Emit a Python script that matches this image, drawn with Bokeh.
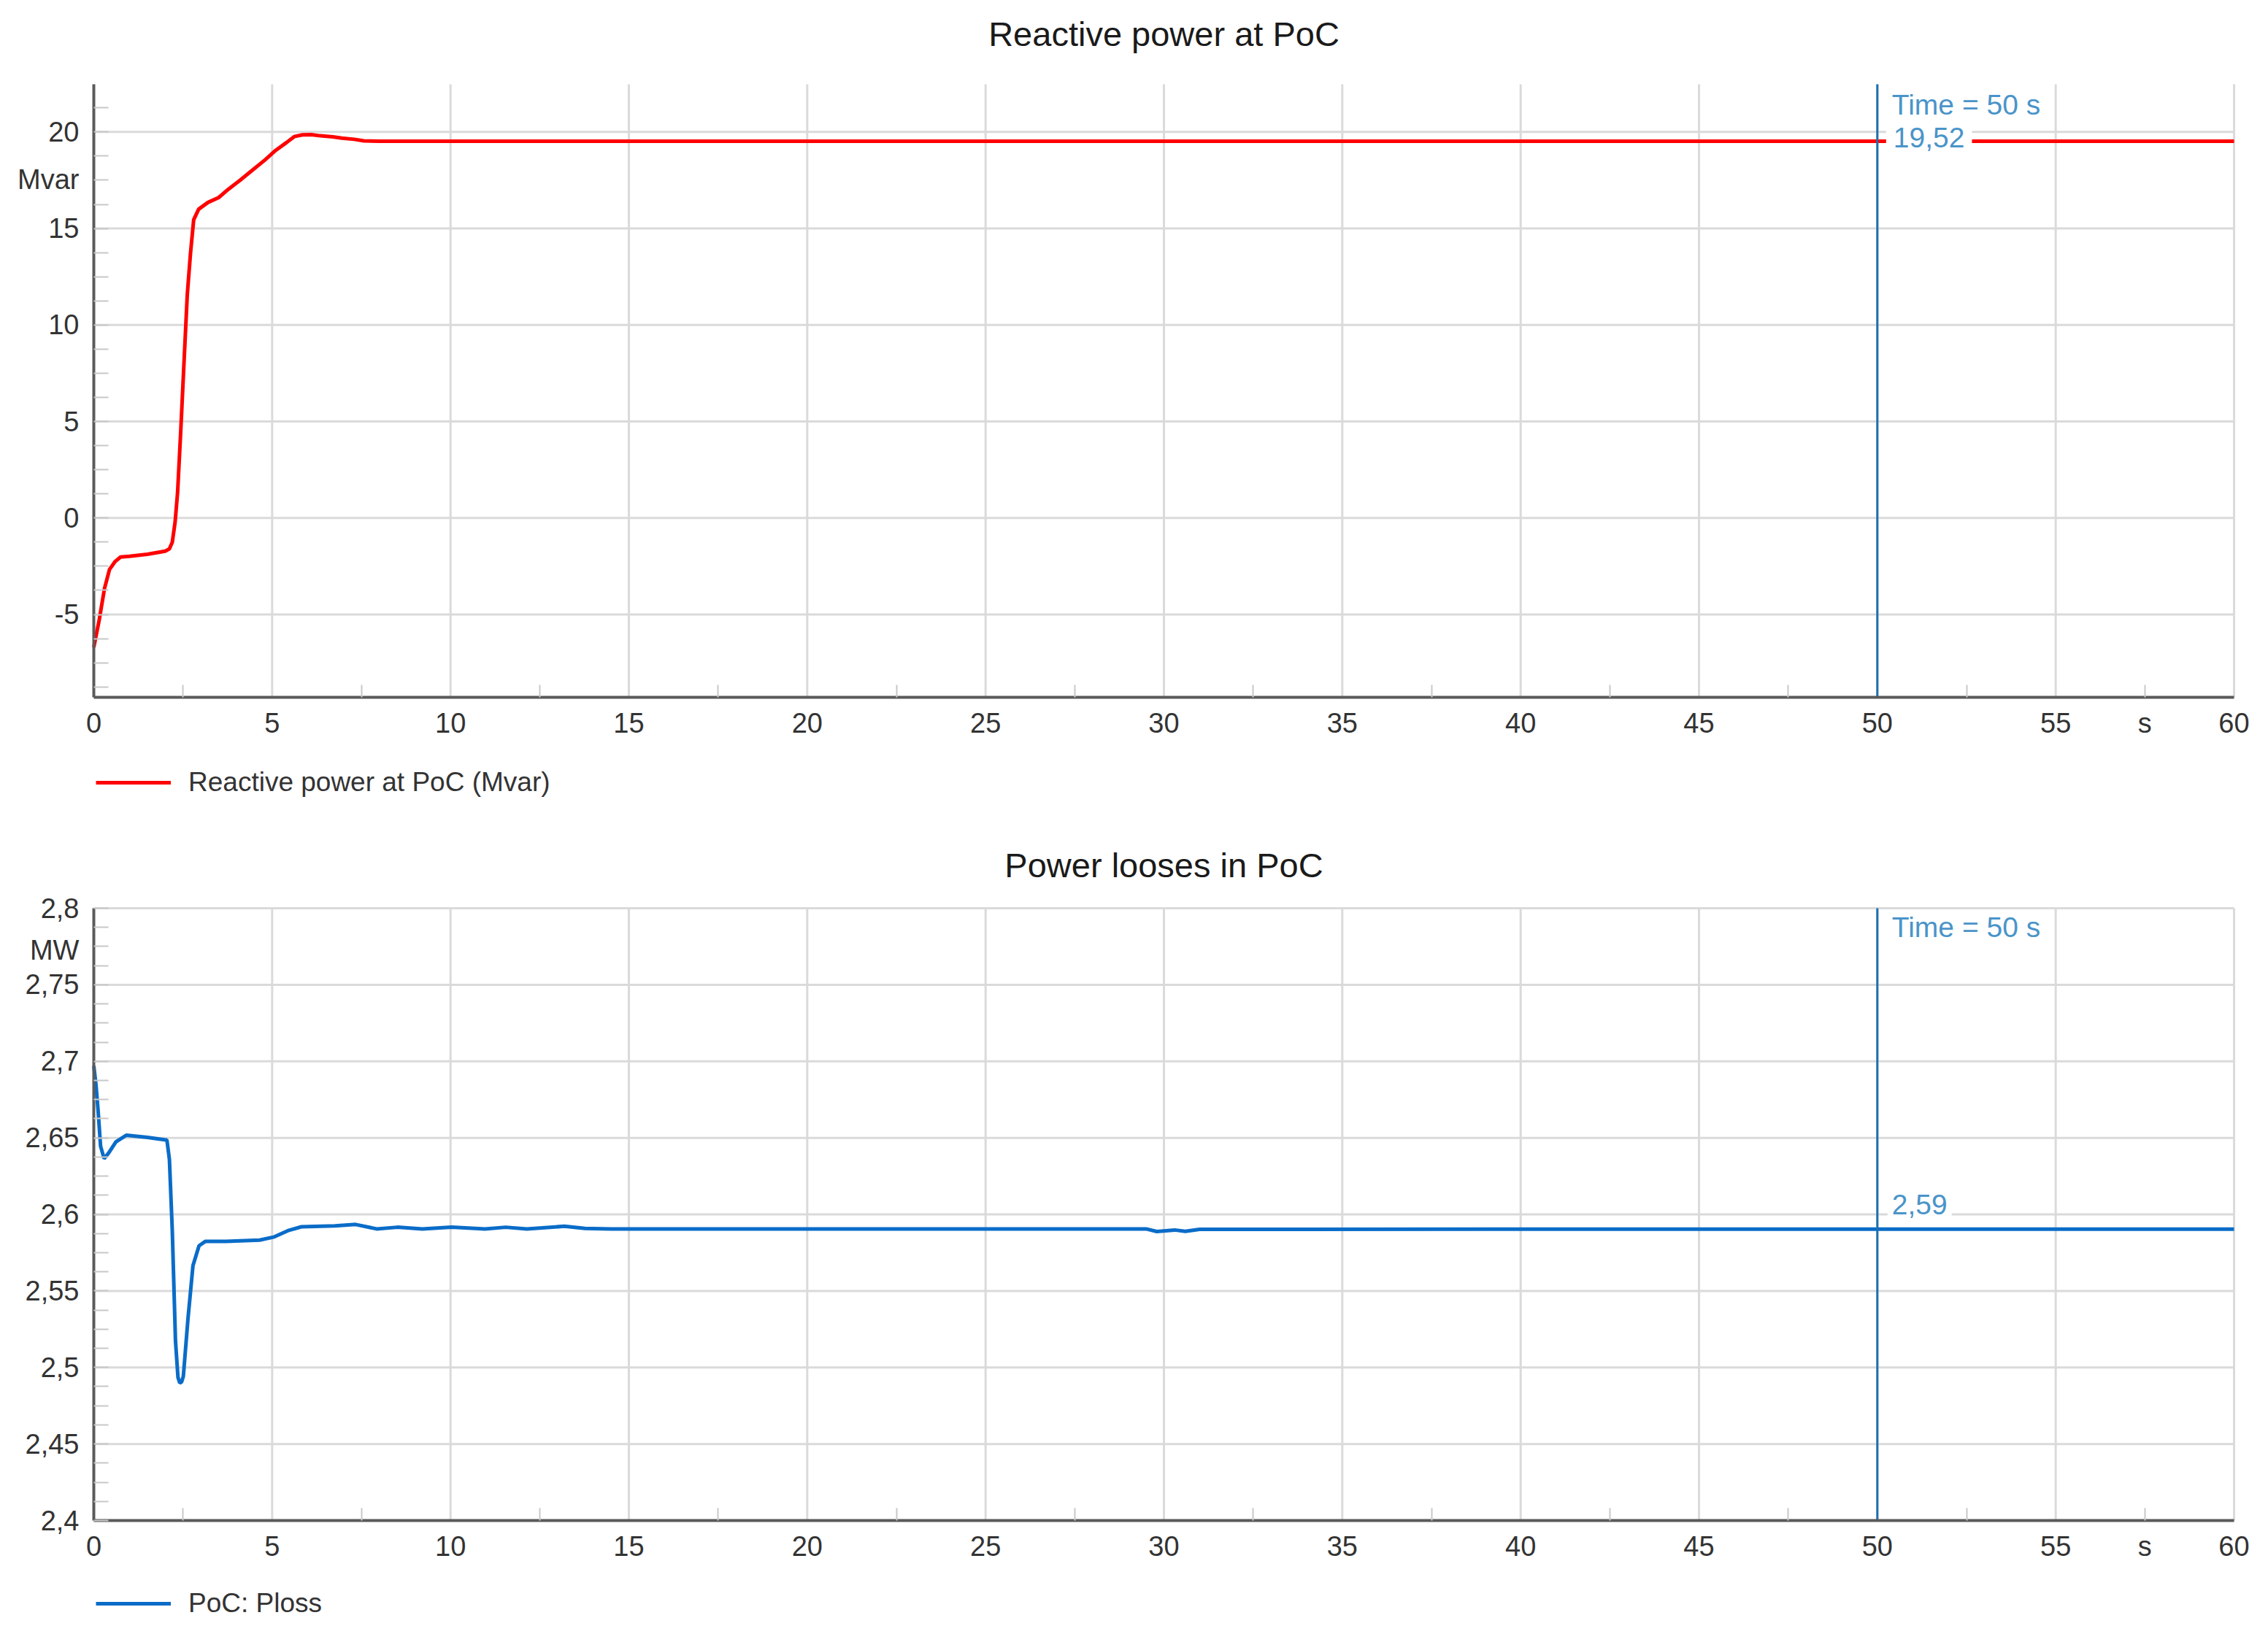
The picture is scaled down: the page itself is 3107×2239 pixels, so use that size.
from bokeh.plotting import figure
from bokeh.models import (FixedTicker, Label, Legend, LegendItem, Range1d,
                          CustomJSTickFormatter)
from bokeh.layouts import column
from bokeh.embed import file_html
from bokeh.resources import INLINE

# ---------------- data ----------------
t_q = [0.0, 0.15, 0.3, 0.44, 0.6, 0.75, 1.0, 1.5, 2.0, 2.12, 2.2, 2.28, 2.35, 2.44,
       2.53, 2.62, 2.71, 2.8, 2.94, 3.2, 3.5, 3.75, 4.1, 4.4, 4.8, 5.1, 5.4, 5.62,
       5.85, 6.1, 6.35, 6.7, 6.95, 7.3, 7.57, 8.0, 10.0, 20.0, 30.0, 40.0, 50.0, 60.0]
q_mvar = [-6.7, -5.3, -3.65, -2.67, -2.25, -2.02, -1.98, -1.88, -1.72, -1.6, -1.26,
          -0.2, 1.35, 4.6, 8.1, 11.55, 13.7, 15.45, 16.0, 16.35, 16.6, 17.0, 17.5,
          17.95, 18.55, 19.05, 19.45, 19.76, 19.85, 19.86, 19.8, 19.75, 19.68, 19.62,
          19.54, 19.52, 19.52, 19.52, 19.52, 19.52, 19.52, 19.52]

t_p = [0.0, 0.06, 0.12, 0.19, 0.29, 0.42, 0.62, 0.91, 1.5, 2.05, 2.12, 2.2, 2.29,
       2.36, 2.41, 2.46, 2.51, 2.64, 2.78, 2.95, 3.13, 3.7, 4.65, 5.06, 5.47, 5.82,
       6.76, 7.34, 7.93, 8.51, 9.21, 10.03, 10.97, 11.55, 12.14, 13.19, 13.77, 14.5,
       20.0, 29.5, 29.8, 30.3, 30.6, 31.0, 40.0, 50.0, 60.0]
p_loss = [2.697, 2.685, 2.668, 2.6445, 2.6364, 2.6402, 2.6474, 2.6517, 2.6503, 2.6485,
          2.6358, 2.5896, 2.5173, 2.4935, 2.4899, 2.4905, 2.4942, 2.5318, 2.5665,
          2.5795, 2.5824, 2.5824, 2.5832, 2.5853, 2.5896, 2.5919, 2.5925, 2.5934,
          2.5905, 2.5916, 2.5905, 2.5916, 2.5905, 2.5916, 2.5905, 2.5922, 2.5908,
          2.5905, 2.5905, 2.5905, 2.5888, 2.5898, 2.5889, 2.5902, 2.5903, 2.5903, 2.5903]

x_lo, x_hi = 0, 60
x_major = [0, 5, 10, 15, 20, 25, 30, 35, 40, 45, 50, 55, 60]
x_unit_pos = 57.5
x_unit = "s"
x_minor = [2.5, 7.5, 12.5, 17.5, 22.5, 27.5, 32.5, 37.5, 42.5, 47.5, 52.5, 57.5]
q_major = [-5, 0, 5, 10, 15, 20]
q_unit_pos = 17.54
q_unit = "Mvar"
q_minor = [-8.75 + 1.25 * i for i in range(25)]
q_lo, q_hi = -9.29, 22.47
p_major = [2.4, 2.45, 2.5, 2.55, 2.6, 2.65, 2.7, 2.75, 2.8]
p_unit_pos = 2.7726
p_unit = "MW"
p_minor = [2.4 + 0.0125 * i for i in range(33)]
p_lo, p_hi = 2.4, 2.8

cursor_t = 50
q_at_cursor = "19,52"
p_at_cursor = "2,59"
p_at_cursor_val = 2.5903
q_at_cursor_val = 19.52

FONT = "Liberation Sans"
AXIS_COL = "#5a5a5a"
GRID_COL = "#dadada"
TXT_COL = "#333333"
CURSOR_COL = "#1c6fb0"
CURSOR_TXT = "#4a94c9"

FIG_W = 3100
PLOT_L, PLOT_R = 128, 3060   # pixel extent of the plotting area


def unit_formatter(pos, unit, code_num):
    return CustomJSTickFormatter(
        args=dict(pos=pos, unit=unit),
        code="if (Math.abs(tick - pos) < 1e-6) { return unit; } " + code_num)


def make_fig(title, lo, hi, fig_h, plot_top, plot_bot, title_c, ymaj, ymin, yfmt,
             yunit_pos):
    ppu = (plot_bot - plot_top) / (hi - lo)
    ppx = (PLOT_R - PLOT_L) / (x_hi - x_lo)
    p = figure(width=FIG_W, height=fig_h,
               x_range=Range1d(x_lo - PLOT_L / ppx, x_hi + (FIG_W - PLOT_R) / ppx),
               y_range=Range1d(lo - (fig_h - plot_bot) / ppu, hi + plot_top / ppu),
               output_backend="svg", toolbar_location=None,
               min_border_left=0, min_border_right=0,
               min_border_top=0, min_border_bottom=0)
    p.outline_line_color = None
    p.xgrid.visible = False
    p.ygrid.visible = False

    # title as a label centred over the plot
    p.add_layout(Label(x=(x_lo + x_hi) / 2, y=hi + (plot_top - title_c) / ppu, text=title,
                       text_align="center", text_baseline="middle", text_font=FONT,
                       text_font_size="47px", text_color="#1a1a1a"))

    # grid lines limited to the plotting area
    p.segment(x0=x_major, y0=[lo] * len(x_major), x1=x_major, y1=[hi] * len(x_major),
              line_color=GRID_COL, line_width=3)
    p.segment(x0=[x_lo] * len(ymaj), y0=ymaj, x1=[x_hi] * len(ymaj), y1=ymaj,
              line_color=GRID_COL, line_width=3)

    p.xaxis.fixed_location = lo
    p.xaxis.bounds = (x_lo, x_hi)
    p.xaxis.ticker = FixedTicker(ticks=x_major + [x_unit_pos], minor_ticks=x_minor)
    p.xaxis.formatter = unit_formatter(x_unit_pos, x_unit, "return tick.toFixed(0);")

    p.yaxis.fixed_location = x_lo
    p.yaxis.bounds = (lo, hi)
    p.yaxis.ticker = FixedTicker(ticks=ymaj + [yunit_pos], minor_ticks=ymin)
    p.yaxis.formatter = yfmt

    for ax in (p.xaxis, p.yaxis):
        ax.axis_line_color = AXIS_COL
        ax.axis_line_width = 4
        ax.major_tick_in = 0
        ax.major_tick_out = 0
        ax.minor_tick_out = 0
        ax.minor_tick_line_color = "#c8c8c8"
        ax.minor_tick_line_width = 2
        ax.major_label_text_font = FONT
        ax.major_label_text_font_size = "38px"
        ax.major_label_text_color = TXT_COL
    p.xaxis.minor_tick_in = 17
    p.yaxis.minor_tick_in = 20
    p.xaxis.major_label_standoff = 14
    p.yaxis.major_label_standoff = 20
    return p


p1 = make_fig("Reactive power at PoC", q_lo, q_hi, 1140, 115, 955, 46,
              q_major, q_minor,
              unit_formatter(q_unit_pos, q_unit, "return tick.toFixed(0);"), q_unit_pos)
r1 = p1.line(t_q, q_mvar, line_color="#ff0000", line_width=5)

p2 = make_fig("Power looses in PoC", p_lo, p_hi, 1098, 104, 943, 45,
              p_major, p_minor,
              unit_formatter(p_unit_pos, p_unit,
                             "return tick.toFixed(2).replace(/\\.?0+$/, '').replace('.', ',');"),
              p_unit_pos)
r2 = p2.line(t_p, p_loss, line_color="#0a6cc8", line_width=5)

for p, r, lab, lo, hi, vy in ((p1, r1, "Reactive power at PoC (Mvar)", q_lo, q_hi, 46),
                              (p2, r2, "PoC: Ploss", p_lo, p_hi, 19)):
    leg = Legend(items=[LegendItem(label=lab, renderers=[r])],
                 location=(PLOT_L + 3, vy),
                 orientation="horizontal", margin=0, padding=0,
                 glyph_width=103, glyph_height=44, label_height=44, label_standoff=24,
                 label_text_font=FONT, label_text_font_size="37px",
                 label_text_color=TXT_COL, border_line_color=None,
                 background_fill_alpha=0)
    p.add_layout(leg)
    # cursor line
    p.segment(x0=[cursor_t], y0=[lo], x1=[cursor_t], y1=[hi], line_color=CURSOR_COL,
              line_width=3)

# cursor annotations
p1.add_layout(Label(x=cursor_t, y=q_hi, x_offset=20, y_offset=-28, text="Time = 50 s",
                    text_baseline="middle", text_font=FONT, text_font_size="39px",
                    text_color=CURSOR_TXT))
p1.add_layout(Label(x=cursor_t, y=q_at_cursor_val, x_offset=12, y_offset=5,
                    text=q_at_cursor, text_baseline="middle", text_font=FONT,
                    text_font_size="39px", text_color=CURSOR_TXT,
                    background_fill_color="white", padding=10))
p2.add_layout(Label(x=cursor_t, y=p_hi, x_offset=20, y_offset=-26, text="Time = 50 s",
                    text_baseline="middle", text_font=FONT, text_font_size="39px",
                    text_color=CURSOR_TXT))
p2.add_layout(Label(x=cursor_t, y=p_at_cursor_val, x_offset=14, y_offset=34,
                    text=p_at_cursor, text_baseline="middle", text_font=FONT,
                    text_font_size="39px", text_color=CURSOR_TXT,
                    background_fill_color="white", padding=6))

layout = column(p1, p2, spacing=0)
open("out.html", "w").write(file_html(layout, INLINE))
